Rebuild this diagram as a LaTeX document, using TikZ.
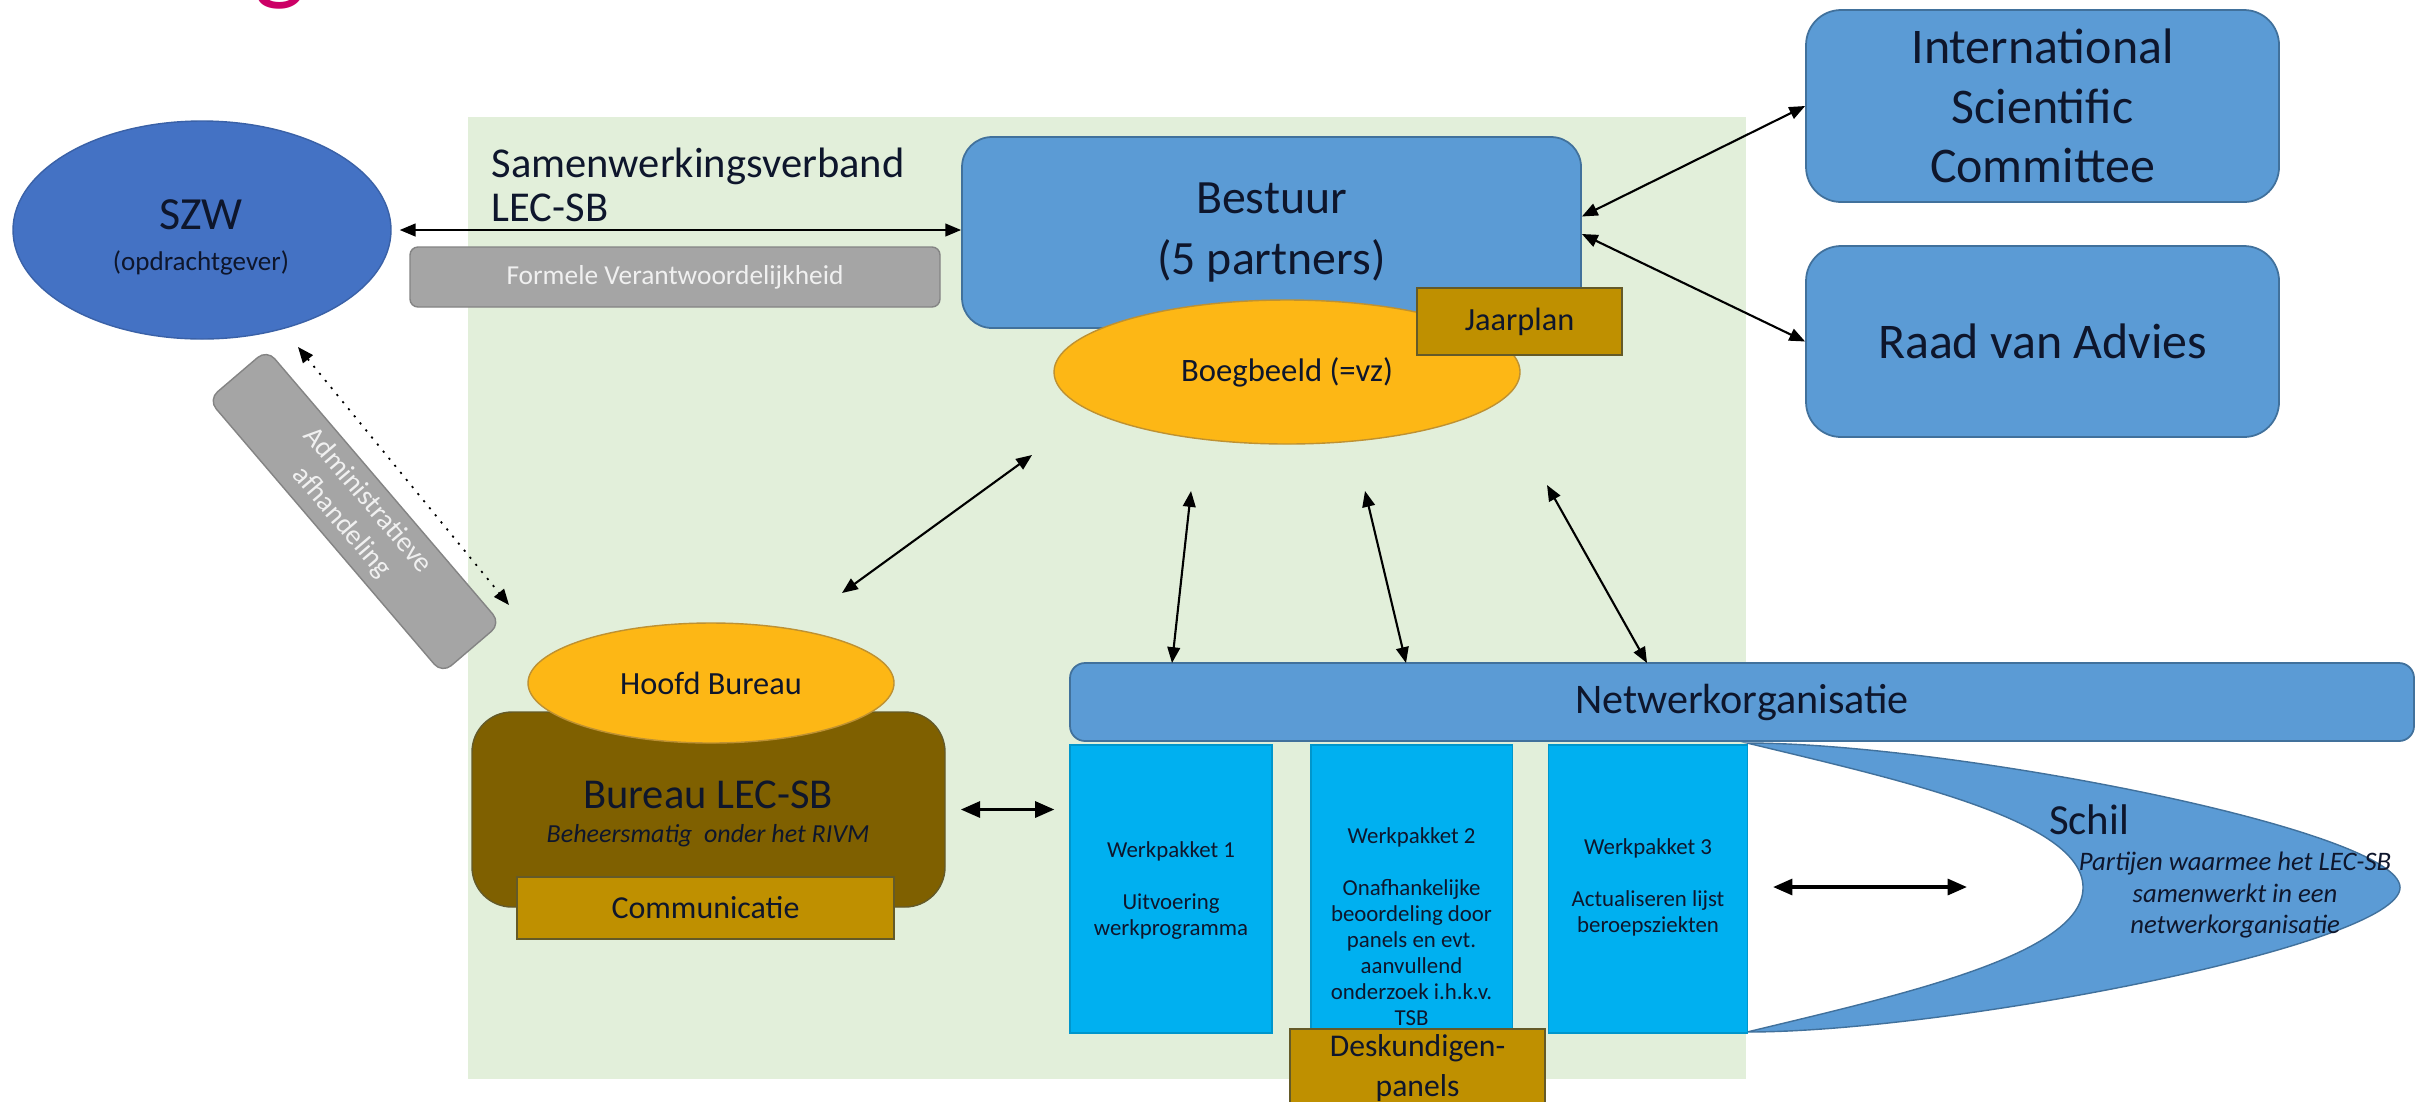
\documentclass[tikz,border=0pt]{standalone}
\usepackage{fontspec}
\setmainfont{Carlito}
\usetikzlibrary{arrows.meta,shapes.geometric,calc}
\definecolor{lecgroen}{RGB}{226,239,218}
\definecolor{szwblauw}{RGB}{68,114,196}
\definecolor{lecblauw}{RGB}{91,155,213}
\definecolor{blauwrand}{RGB}{65,113,156}
\definecolor{wpblauw}{RGB}{0,176,240}
\definecolor{oranje}{RGB}{253,183,21}
\definecolor{oranjerand}{RGB}{190,145,50}
\definecolor{goud}{RGB}{191,144,0}
\definecolor{bruin}{RGB}{127,96,0}
\definecolor{bruinrand}{RGB}{100,90,40}
\definecolor{grijs}{RGB}{165,165,165}
\definecolor{grijstekst}{RGB}{240,240,240}
\definecolor{inkt}{RGB}{14,22,44}
\definecolor{roze}{RGB}{204,0,102}
\def\fsz#1#2{\fontsize{#1pt}{#2pt}\selectfont}
% one px of the picture is 0.1mm, y runs downwards
\tikzset{
  blok/.style={draw=blauwrand,line width=0.5pt,fill=lecblauw,rounded corners=3mm,
    text=inkt,inner sep=0pt,align=center},
  ovaal/.style={ellipse,draw=oranjerand,line width=0.4pt,fill=oranje,text=inkt,inner sep=0pt},
  goudblok/.style={draw=bruinrand,line width=0.4pt,fill=goud,text=inkt,inner sep=0pt,align=center},
  grijsblok/.style={draw=grijs!80!black,line width=0.4pt,fill=grijs,text=grijstekst,inner sep=0pt,align=center},
  wpblok/.style={fill=wpblauw,draw=wpblauw!85!black,line width=0.3pt,inner sep=0pt},
  wptekst/.style={text=inkt,align=center,inner sep=0pt,font=\fsz{6.5}{7.4}},
  pijl/.style={line width=0.6pt,{Triangle[length=4.5pt,width=3.6pt]}-{Triangle[length=4.5pt,width=3.6pt]}},
  dikpijl/.style={line width=1pt,{Triangle[length=5.5pt,width=4.5pt]}-{Triangle[length=5.5pt,width=4.5pt]}},
}
\begin{document}
\begin{tikzpicture}[x=0.1mm,y=-0.1mm]
  \useasboundingbox (0,0) rectangle (2415,1101);
  \fill[white] (0,0) rectangle (2415,1101);
  % samenwerkingsverband
  \fill[lecgroen] (468,117) rectangle (1746,1079);
  \node[anchor=base,inner sep=0pt,text=roze,font=\fsz{31}{36}] (titelg) at (280,-10) {g};

  \node[grijsblok,rounded corners=0.8mm,minimum width=53mm,minimum height=6mm,
    font=\fsz{7.8}{9}] (formeel) at (675,277) {Formele Verantwoordelijkheid};
  \node[anchor=west,align=left,inner sep=0pt,text=inkt,font=\fsz{12.1}{12.5}] (verband)
    at (491,185) {Samenwerkingsverband\\LEC-SB};

  % opdrachtgever
  \node[ellipse,draw=szwblauw!85!black,line width=0.4pt,fill=szwblauw,inner sep=0pt,
    minimum width=37.8mm,minimum height=21.8mm] (szw) at (202,230) {};
  \node[text=inkt,inner sep=0pt,font=\fsz{13.1}{15}] (szwnaam) at (201,215) {SZW};
  \node[text=inkt,inner sep=0pt,font=\fsz{7.7}{9}] (szwsub) at (201,263) {(opdrachtgever)};
  \node[grijsblok,rounded corners=1.2mm,minimum width=36mm,minimum height=7.7mm,
    rotate=-49.5,font=\fsz{8.1}{9.7}] (admin) at (354.5,511.5) {Administratieve\\afhandeling};

  % bestuur
  \node[blok,minimum width=61.9mm,minimum height=19.1mm,font=\fsz{13.6}{17.6}] (bestuur)
    at (1271.5,232.5) {Bestuur\\(5 partners)};
  \node[ovaal,minimum width=46.6mm,minimum height=14.4mm,font=\fsz{9.3}{11}] (boeg)
    at (1287,372) {Boegbeeld (=vz)};
  \node[goudblok,minimum width=20.5mm,minimum height=6.7mm,font=\fsz{9.2}{11}] (jaar)
    at (1519.5,321.5) {Jaarplan};
  \node[blok,rounded corners=3.5mm,minimum width=47.3mm,minimum height=19.2mm,
    font=\fsz{14.2}{17}] (isc) at (2042.5,106) {International\\Scientific\\Committee};
  \node[blok,rounded corners=3.5mm,minimum width=47.3mm,minimum height=19.1mm,
    font=\fsz{14.2}{17}] (raad) at (2042.5,341.5) {Raad van Advies};

  % bureau
  \node[draw=bruinrand,line width=0.4pt,fill=bruin,rounded corners=4mm,inner sep=0pt,
    minimum width=47.3mm,minimum height=19.5mm] (bureau) at (708.5,809.5) {};
  \node[ovaal,minimum width=36.6mm,minimum height=12mm,font=\fsz{9.2}{11}] (hoofd)
    at (711,683) {Hoofd Bureau};
  \node[text=inkt,inner sep=0pt,font=\fsz{12.1}{14}] (bureaunaam) at (708,795) {Bureau  LEC-SB};
  \node[text=inkt,inner sep=0pt,font=\fsz{7.4}{9}\itshape] (bureausub) at (708,836)
    {Beheersmatig\ \ onder het RIVM};
  \node[goudblok,minimum width=37.7mm,minimum height=6.2mm,font=\fsz{9.1}{11}] (comm)
    at (705.5,908) {Communicatie};

  % netwerk en schil
  \draw[blauwrand,line width=0.4pt,fill=lecblauw] (1747,743)
    .. controls (1950,743) and (2400,830) .. (2400,887.5)
    .. controls (2400,945) and (1950,1032) .. (1747,1032)
    .. controls (1900,995) and (2083,955) .. (2083,887.5)
    .. controls (2083,820) and (1900,780) .. cycle;
  \node[blok,rounded corners=1.5mm,minimum width=134.4mm,minimum height=7.8mm,
    font=\fsz{12}{14}] (netwerk) at (1742,702) {Netwerkorganisatie};
  \node[wpblok,minimum width=20.2mm,minimum height=28.8mm] (wp1) at (1171,889) {};
  \node[wpblok,minimum width=20.1mm,minimum height=28.8mm] (wp2) at (1411.5,889) {};
  \node[wpblok,minimum width=19.9mm,minimum height=28.8mm] (wp3) at (1647.5,889) {};
  \node[wptekst] (wp1t) at (1171,890.5) {Werkpakket 1\\[7.4pt]Uitvoering\\werkprogramma};
  \node[wptekst] (wp2t) at (1411.5,926.5) {Werkpakket 2\\[7.4pt]Onafhankelijke\\beoordeling door\\panels en evt.\\aanvullend\\onderzoek i.h.k.v.\\TSB};
  \node[wptekst] (wp3t) at (1648,887.5) {Werkpakket 3\\[7.4pt]Actualiseren lijst\\beroepsziekten};
  \node[goudblok,minimum width=25.5mm,minimum height=7.8mm,font=\fsz{9}{11.4}] (desk)
    at (1417.5,1068) {Deskundigen-\\panels};
  \node[text=inkt,inner sep=0pt,font=\fsz{12.2}{14}] (schil) at (2089,820) {Schil};
  \node[text=inkt,inner sep=0pt,align=center,font=\fsz{7.6}{9.1}\itshape] (schilsub)
    at (2235,895) {Partijen waarmee het LEC-SB\\samenwerkt in een\\netwerkorganisatie};

  % verbindingen
  \coordinate (bo1) at (842,593);
  \coordinate (bo2) at (1032,455);
  \coordinate (n1a) at (1191,491);
  \coordinate (n1b) at (1172,663);
  \coordinate (n2a) at (1365,491);
  \coordinate (n2b) at (1406,663);
  \coordinate (n3a) at (1547,485);
  \coordinate (n3b) at (1647,663);
  \coordinate (ad1) at (298,347);
  \coordinate (ad2) at (509,605);
  \coordinate (sc1) at (1773,887);
  \coordinate (sc2) at (1967,887);
  \draw[pijl,shorten <=0.8mm] (szw.east) -- (szw.east -| bestuur.west);
  \draw[pijl] ($(bestuur.east)+(0,-16)$) -- (isc.west);
  \draw[pijl] ($(bestuur.east)+(0,1.5)$) -- (raad.west);
  \draw[pijl] (bo1) -- (bo2);
  \draw[pijl] (n1a) -- (n1b);
  \draw[pijl] (n2a) -- (n2b);
  \draw[pijl] (n3a) -- (n3b);
  \draw[pijl,dotted,line width=0.5pt] (ad1) -- (ad2);
  \draw[dikpijl,shorten <=1.5mm,shorten >=1.5mm] (bureau.east) -- (wp1.west |- bureau.east);
  \draw[dikpijl] (sc1) -- (sc2);
\end{tikzpicture}
\end{document}
